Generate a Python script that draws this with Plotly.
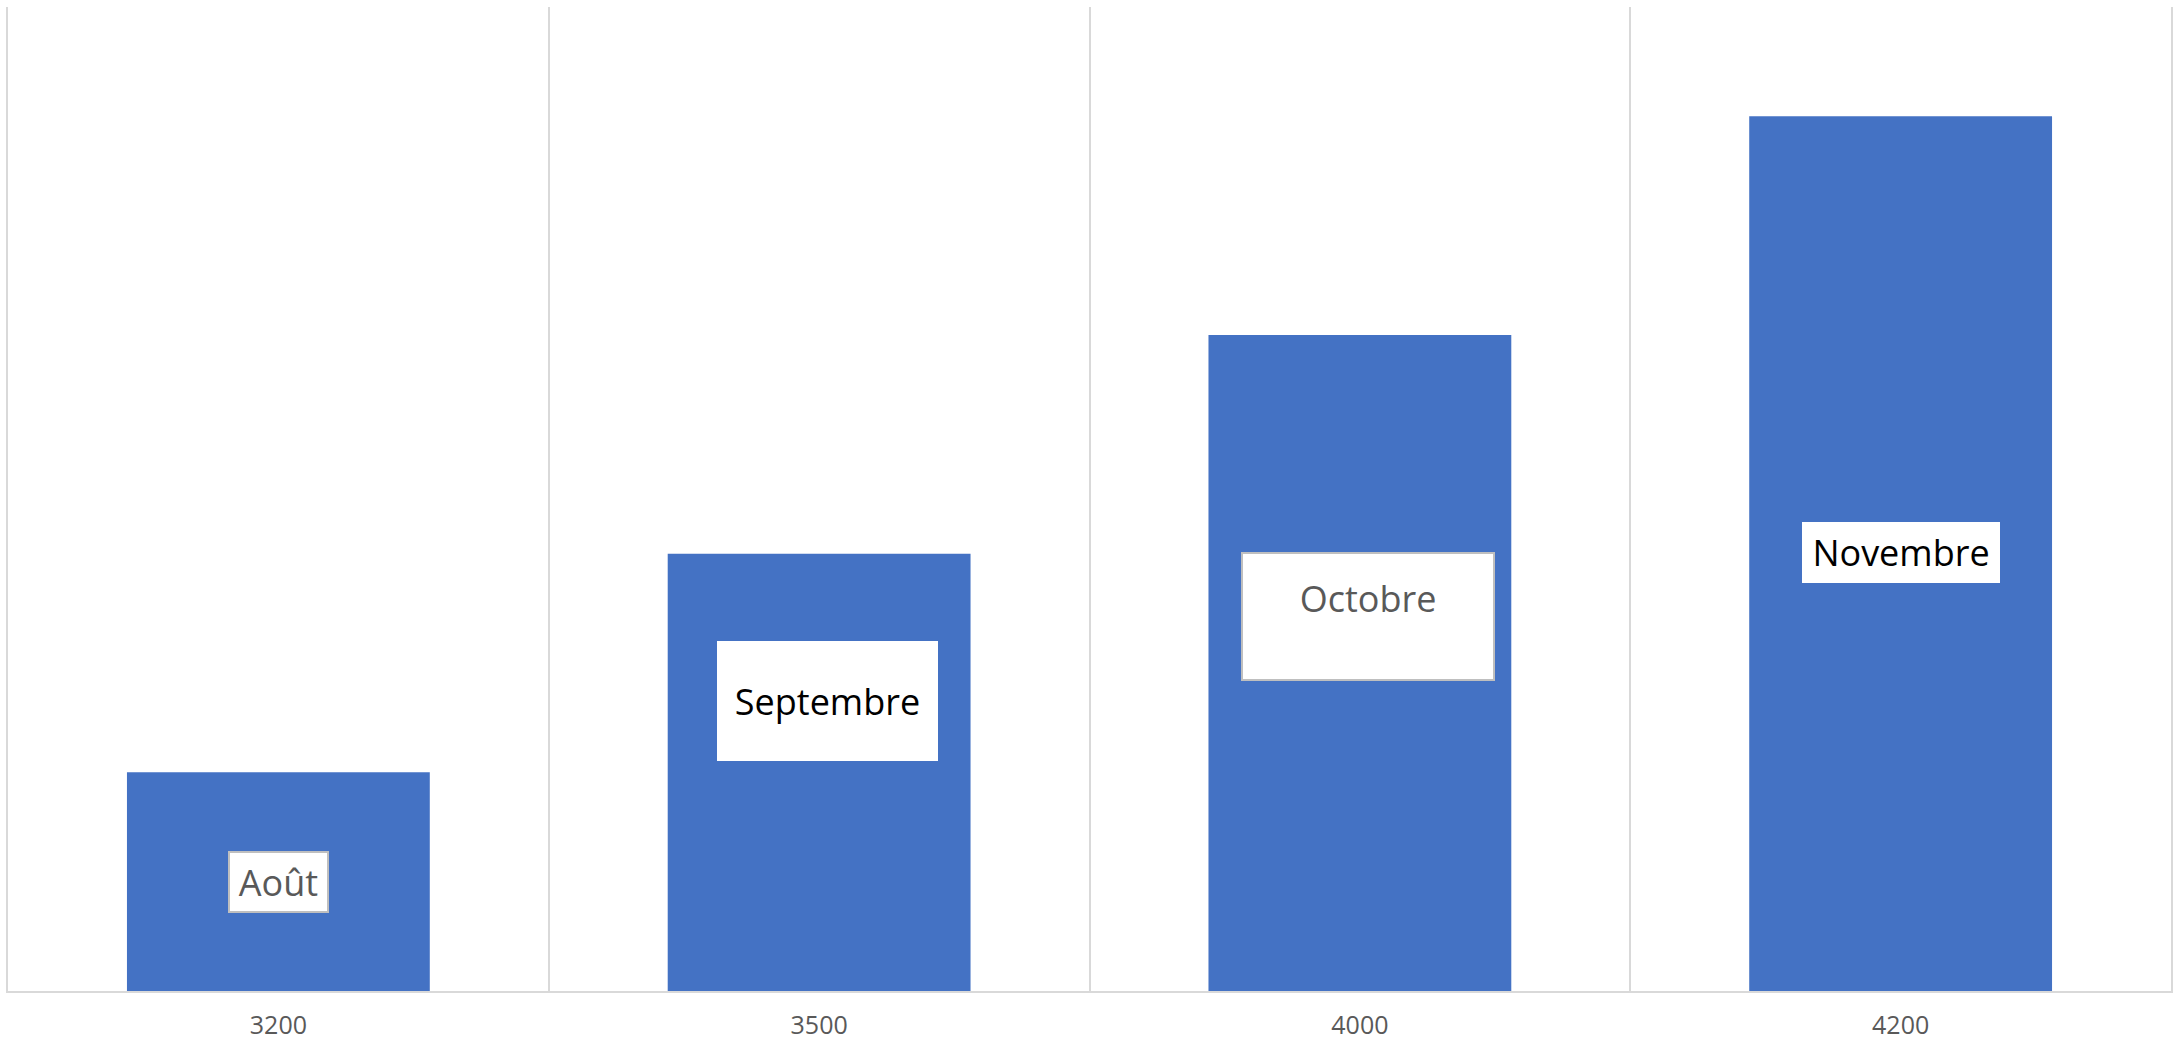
import plotly.graph_objects as go

categories = ["3200", "3500", "4000", "4200"]
values = [1, 2, 3, 4]
labels = ["Août", "Septembre", "Octobre", "Novembre"]

# label styling (position as fraction of bar height, box size, colours)
label_frac = [0.5, 0.662, 0.571, 0.501]
label_xshift = [0, 8, 8, 0]
label_box_w = [101, 223, 254, 200]
label_box_h = [62, 122, 129, 63]
label_pad = [2, 2, 20, 2]
label_color = ["#595959", "#000000", "#595959", "#000000"]
label_border = ["#bfbfbf", "rgba(0,0,0,0)", "#bfbfbf", "rgba(0,0,0,0)"]
label_valign = ["middle", "middle", "top", "middle"]

xs = list(range(len(categories)))

fig = go.Figure()
fig.add_trace(go.Bar(
    x=xs, y=values, width=0.56,
    marker=dict(color="#4472C4", line=dict(width=0)),
    hoverinfo="skip", showlegend=False,
))

bw = 2
for i, (v, lab) in enumerate(zip(values, labels)):
    p = label_pad[i]
    fig.add_annotation(
        x=xs[i], y=v * label_frac[i], xref="x", yref="y",
        xshift=label_xshift[i],
        text=lab, showarrow=False,
        font=dict(family="Open Sans", size=36, color=label_color[i]),
        bgcolor="#ffffff", bordercolor=label_border[i], borderwidth=bw,
        borderpad=p,
        width=label_box_w[i] - 2 * (p + bw),
        height=label_box_h[i] - 2 * (p + bw),
        align="center", valign=label_valign[i],
        xanchor="center", yanchor="middle",
    )

fig.update_layout(
    width=2177, height=1045,
    margin=dict(l=8, r=4, t=7, b=45),
    paper_bgcolor="#ffffff", plot_bgcolor="#ffffff",
    bargap=0.44,
    xaxis=dict(
        range=[-0.5, len(categories) - 0.5],
        tickmode="array", tickvals=xs, ticktext=categories,
        showgrid=False, zeroline=False,
        showline=True, linecolor="#d9d9d9", linewidth=2,
        ticks="", ticklabelstandoff=11,
        tickfont=dict(family="Open Sans", size=25, color="#595959"),
        minor=dict(tickmode="array",
                   tickvals=[x + 0.5 for x in xs[:-1]],
                   showgrid=True, gridcolor="#d9d9d9", gridwidth=2, ticks=""),
    ),
    yaxis=dict(
        range=[0, 4.5], showgrid=False, zeroline=False,
        showticklabels=False, ticks="",
        showline=True, mirror=True, linecolor="#d9d9d9", linewidth=2,
    ),
)

fig.write_html(
    "out.html",
    config={"displayModeBar": False},
    post_script="document.body.style.margin='0';document.body.style.padding='0';"
                "document.body.style.overflow='hidden';",
)
